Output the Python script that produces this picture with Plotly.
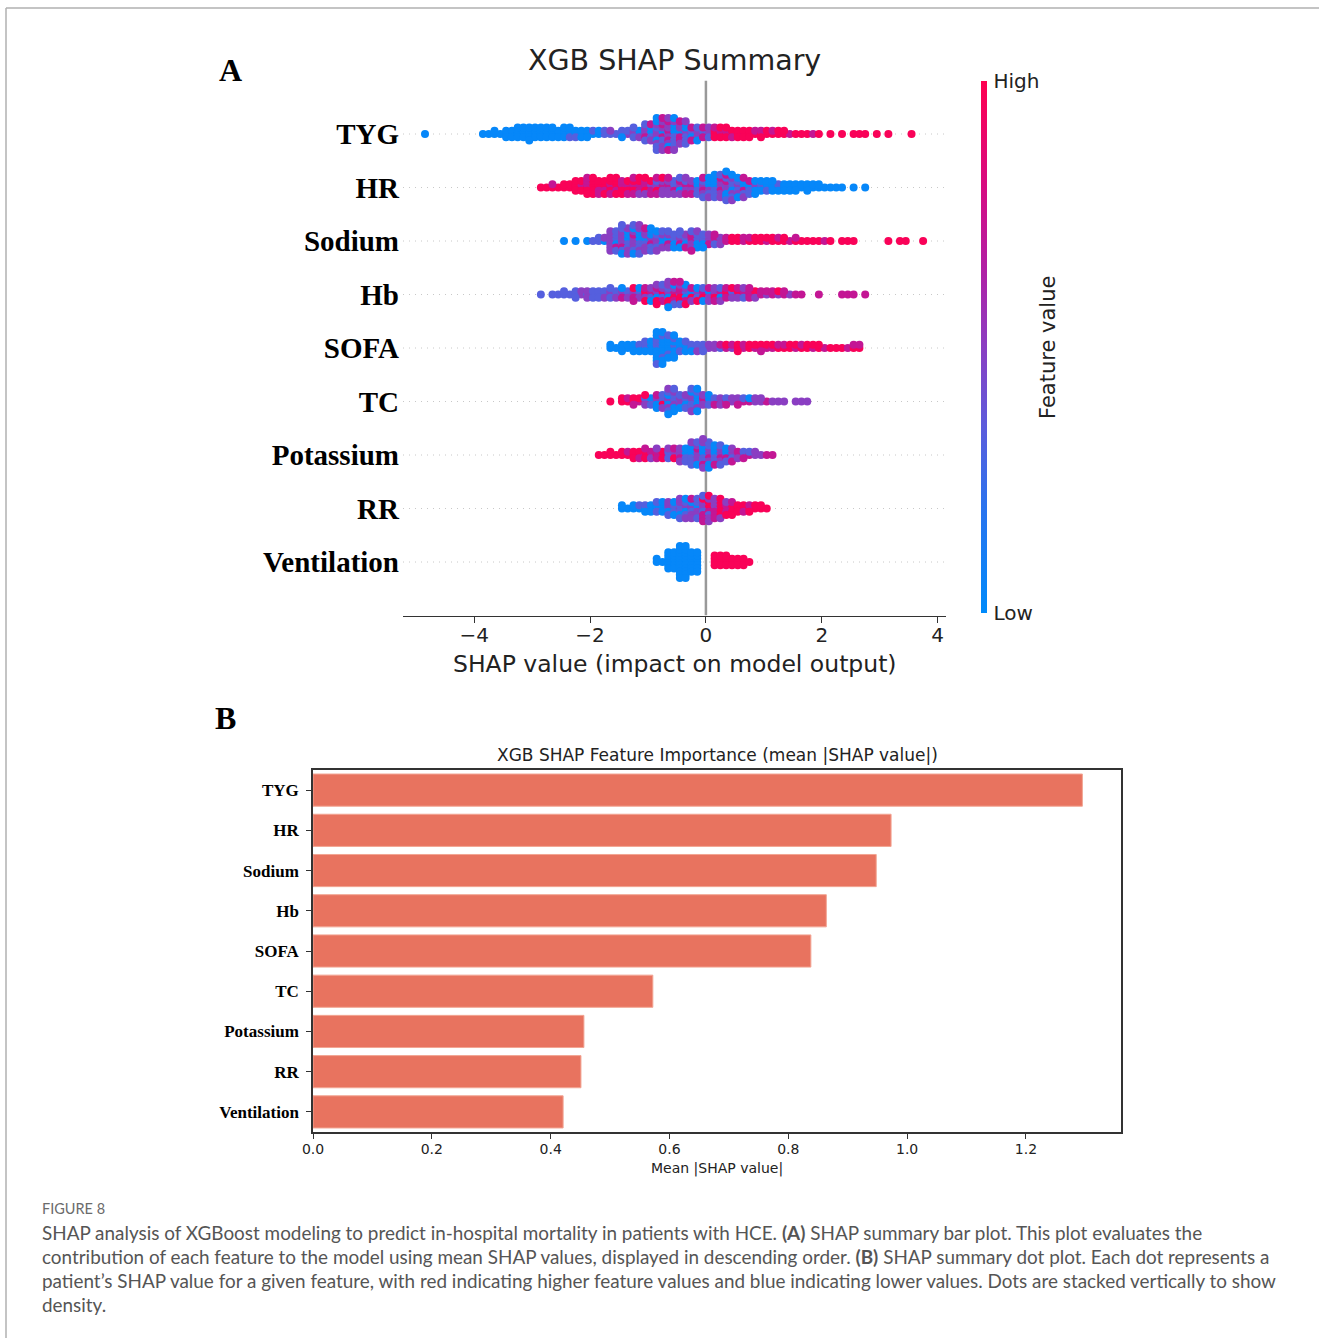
import math
import plotly.graph_objects as go

W, H = 1319, 1338

# ---------------- data ----------------
features = ["TYG", "HR", "Sodium", "Hb", "SOFA", "TC", "Potassium", "RR", "Ventilation"]
mean_abs_shap = [1.295, 0.973, 0.948, 0.864, 0.838, 0.572, 0.456, 0.451, 0.421]

# Beeswarm: SHAP bins of width 0.2 starting at *_start;
# each string lists the dots in that bin, digit = feature-value level (0 low .. 4 high)
TYG_start = -4.8
TYG_bins = ["0", "", "", "", "", "00", "000", "000000", "00000000", "000000000",
            "00000000", "0000000", "00000100", "000010", "00010", "0101", "112",
            "12110", "2120121", "212031201213", "2120231201232102120312",
            "1230212031202132012032", "2102312031202132", "2312023130", "23123132",
            "43434434", "4434434", "434444", "44434", "44344", "4434", "434", "44",
            "43", "4", "4", "4", "44", "4", "4", "4", "", "4"]

HR_start = -2.8
HR_bins = ["44", "443", "4444", "44434444", "443444344434", "4444334434",
           "443443443444", "4433443443", "443343443234", "34324334234",
           "232342123234", "22312321223", "212302312312", "2130212031",
           "21203210213012", "1202130212031201", "1021203102120130120",
           "01201310210302", "0102103010", "00100100", "0001000", "000000",
           "00000", "00000", "000", "00", "0", "0", "0"]

Sodium_start = -2.4
Sodium_bins = ["0", "0", "01", "1012", "21212021232121", "2120212031201212021",
               "21202130212012020112", "1202132021202130", "2120201212012",
               "12013021201", "10213012031", "2031203120123", "231203120",
               "2132123", "3434", "4343", "4434", "4344", "4443", "434", "443",
               "44", "43", "4", "44", "4", "", "", "4", "44", "", "4"]

Hb_start = -2.8
Hb_bins = ["1", "11", "111", "12121", "112121", "121112", "2121121", "1221320",
           "232132403", "3243213240", "4324013243214", "34230412432041230",
           "243140324320143", "0302413024", "2130421302", "3123402132",
           "32413234", "23432132", "3234323", "3233", "3234", "323", "33", "",
           "3", "", "33", "3", "3"]

SOFA_start = -1.6
SOFA_bins = ["000", "00000", "000100", "00100010", "0010001000100101000010",
             "0001000010010010", "01001001", "101102", "12121", "2123", "3243",
             "43434", "4344", "43443", "3443", "4434", "3443", "4344", "434",
             "44", "43", "4433"]

TC_start = -1.6
TC_bins = ["4", "4443", "43443", "3410214", "1021043102", "01210201201210210",
           "1021201201", "0120102012012010", "21302120", "231232", "32123",
           "23213", "3202", "232", "22", "2", "22", "2"]

Potassium_start = -1.8
Potassium_bins = ["44", "444", "4443", "434443", "3443423", "4234342", "32121423",
                  "2120312021", "1202120312021021", "2102130212013021202",
                  "12021302120131", "2102310213", "203123", "3212", "23", "3"]

RR_start = -1.4
RR_bins = ["000", "0001", "001000", "01001010", "1021012010", "20121021012012",
           "21201201223121", "232413243142321432", "34243424342432",
           "4434342344", "434443", "44344", "444"]

Ventilation_start = -0.8
Ventilation_bins = ["000", "000000000000", "0000000000000000000000",
                    "00000000000000", "", "44444444", "4444444", "444444", "4"]

level_value = [0.03, 0.33, 0.5, 0.72, 0.97]

swarm = [(TYG_start, TYG_bins), (HR_start, HR_bins), (Sodium_start, Sodium_bins),
         (Hb_start, Hb_bins), (SOFA_start, SOFA_bins), (TC_start, TC_bins),
         (Potassium_start, Potassium_bins), (RR_start, RR_bins),
         (Ventilation_start, Ventilation_bins)]

# ---------------- layout helpers ----------------
def px(x):
    return x / W


def py(y):
    return 1 - y / H


BIN_W = 0.2
LAYER = 0.06

xs, ys, cs = [], [], []
n = len(features)
for i, (start, bins) in enumerate(swarm):
    row = n - 1 - i
    for b, s in enumerate(bins):
        centre = start + b * BIN_W
        for k, ch in enumerate(s):
            col = k % 2
            layer = k // 2
            off = math.ceil(layer / 2) * (1 if layer % 2 else -1)
            xs.append(centre + (col - 0.5) * BIN_W / 2)
            ys.append(row + off * LAYER)
            cs.append(level_value[int(ch)])

red_blue = [[0.0, "#008BFB"], [0.2, "#2A73EE"], [0.35, "#5C5CDC"], [0.5, "#8A3EC2"],
            [0.65, "#B21FA4"], [0.8, "#D60C82"], [1.0, "#FF0051"]]

fig = go.Figure()
fig.add_trace(go.Scatter(
    x=xs, y=ys, mode="markers", xaxis="x", yaxis="y", hoverinfo="skip",
    showlegend=False,
    marker=dict(size=8, color=cs, colorscale=red_blue, cmin=0, cmax=1,
                line=dict(width=0), showscale=True,
                colorbar=dict(x=px(981), xanchor="left", xpad=0, thickness=6,
                              lenmode="pixels", len=532, y=py(347), yanchor="middle",
                              ypad=0, outlinewidth=0, tickvals=[0, 1],
                              ticktext=["Low", "High"], ticks="outside", ticklen=3,
                              tickcolor="rgba(0,0,0,0)",
                              tickfont=dict(family="DejaVu Sans", size=20, color="#222")))))

fig.add_trace(go.Bar(
    x=mean_abs_shap, y=features, orientation="h", xaxis="x2", yaxis="y2",
    width=0.8, showlegend=False, hoverinfo="skip",
    marker=dict(color="#E8735F", line=dict(color="#F2A593", width=1))))

shapes = []
# zero line
shapes.append(dict(type="line", xref="x", yref="y", x0=0, x1=0, y0=-1, y1=9,
                   line=dict(color="#999999", width=2.5), layer="below"))
for r in range(n):
    shapes.append(dict(type="line", xref="x domain", yref="y", x0=0, x1=1, y0=r, y1=r,
                       line=dict(color="#c8c8c8", width=1, dash="1px,5px"), layer="below"))
# page border
shapes.append(dict(type="line", xref="paper", yref="paper", x0=px(6), x1=1, y0=py(8), y1=py(8),
                   line=dict(color="#b0b0b0", width=1.5)))
shapes.append(dict(type="line", xref="paper", yref="paper", x0=px(6), x1=px(6), y0=py(8), y1=0,
                   line=dict(color="#b0b0b0", width=1.5)))

ann = []


def text(x, y, s, size, family="DejaVu Sans", color="#222", xanchor="center", angle=0):
    ann.append(dict(x=px(x), y=py(y), xref="paper", yref="paper", text=s, showarrow=False,
                    xanchor=xanchor, yanchor="middle", textangle=angle,
                    font=dict(family=family, size=size, color=color)))


text(674.5, 60, "XGB SHAP Summary", 28.5)
text(674.5, 664, "SHAP value (impact on model output)", 23.5)
text(1048, 348, "Feature value", 21, angle=-90)
text(230, 70, "<b>A</b>", 32, family="Liberation Serif", color="#000")
text(225, 718, "<b>B</b>", 32, family="Liberation Serif", color="#000")
text(717, 755, "XGB SHAP Feature Importance (mean |SHAP value|)", 17)
text(717, 1168, "Mean |SHAP value|", 14)

text(40, 1208, "FIGURE 8", 14.5, family="Lato", color="#6b6b6b", xanchor="left")
caption = [
    "SHAP analysis of XGBoost modeling to predict in-hospital mortality in patients with HCE. <b>(A)</b> SHAP summary bar plot. This plot evaluates the",
    "contribution of each feature to the model using mean SHAP values, displayed in descending order. <b>(B)</b> SHAP summary dot plot. Each dot represents a",
    "patient\u2019s SHAP value for a given feature, with red indicating higher feature values and blue indicating lower values. Dots are stacked vertically to show",
    "density.",
]
for i, line in enumerate(caption):
    text(40, 1232 + 24 * i, line, 18.9, family="Lato", color="#555", xanchor="left")

fig.update_layout(
    width=W, height=H, margin=dict(l=0, r=0, t=0, b=0, autoexpand=False), autosize=False,
    paper_bgcolor="white", plot_bgcolor="rgba(0,0,0,0)",
    shapes=shapes, annotations=ann, bargap=0.2,
    xaxis=dict(domain=[px(403), px(946)], range=[-5.23, 4.145], anchor="y",
               showline=True, linecolor="#333", linewidth=1.4, ticks="outside",
               ticklen=6, tickwidth=1.2, tickcolor="#333",
               tickvals=[-4, -2, 0, 2, 4], ticktext=["\u22124", "\u22122", "0", "2", "4"],
               tickfont=dict(family="DejaVu Sans", size=20, color="#222"),
               ticklabelstandoff=-5, automargin=False,
               showgrid=False, zeroline=False),
    yaxis=dict(domain=[py(615.5), py(80.5)], range=[-1, 9], anchor="x",
               tickvals=list(range(n)),
               ticktext=["<b>%s</b>" % f for f in features[::-1]],
               tickfont=dict(family="Liberation Serif", size=29, color="#000"),
               showline=False, showgrid=False, zeroline=False, ticks="",
               ticklabelstandoff=3, automargin=False),
    xaxis2=dict(domain=[px(313), px(1121)], range=[0, 1.36], anchor="y2",
                showline=True, mirror=True, linecolor="#333", linewidth=1.5,
                ticks="outside", ticklen=5, tickcolor="#333",
                tickvals=[0, 0.2, 0.4, 0.6, 0.8, 1.0, 1.2],
                ticktext=["0.0", "0.2", "0.4", "0.6", "0.8", "1.0", "1.2"],
                tickfont=dict(family="DejaVu Sans", size=14, color="#222"),
                ticklabelstandoff=-2,
                automargin=False, showgrid=False, zeroline=False),
    yaxis2=dict(domain=[py(1132), py(770)], type="category", categoryorder="array",
                categoryarray=features, range=[8.5, -0.5], anchor="x2",
                showline=True, mirror=True, linecolor="#333", linewidth=1.5,
                ticks="outside", ticklen=5, tickcolor="#333",
                ticktext=["<b>%s</b>" % f for f in features], tickvals=features,
                tickfont=dict(family="Liberation Serif", size=17, color="#000"),
                ticklabelstandoff=4,
                automargin=False, showgrid=False, zeroline=False),
)

fig.write_html("out.html")
